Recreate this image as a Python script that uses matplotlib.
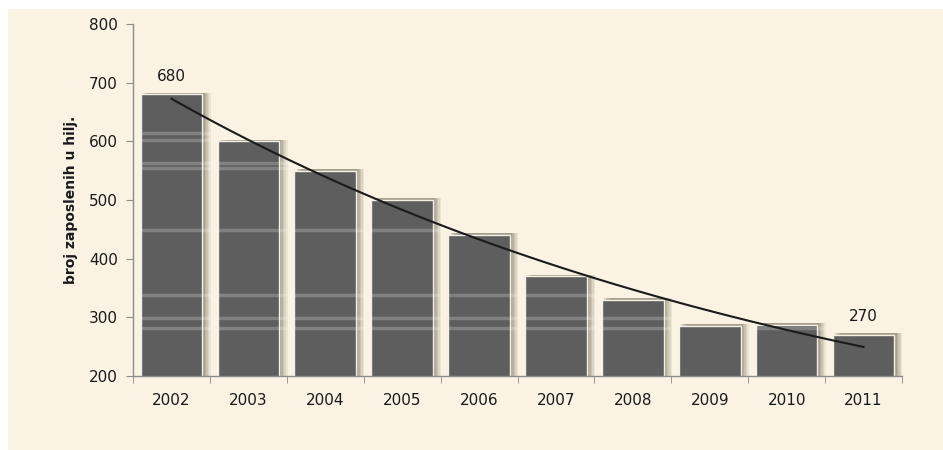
import numpy as np
import matplotlib.pyplot as plt
from matplotlib.patches import Rectangle

years = ["2002", "2003", "2004", "2005", "2006", "2007", "2008", "2009", "2010", "2011"]
employed = [680, 600, 550, 500, 440, 370, 330, 285, 287, 270]
labelled = {0: "680", 9: "270"}
y_ticks = [200, 300, 400, 500, 600, 700, 800]
ylabel = "broj zaposlenih u hilj."
# faint light bands seen across the bars in the original image
streaks = [282, 299, 338, 449, 554, 563, 602, 614]

bg = "#faf3e4"
bar_color = "#5e5e5e"

fig = plt.figure(figsize=(9.43, 4.5), dpi=100)
fig.patch.set_facecolor("white")
fig.patches.append(Rectangle((8 / 943, 0), 1, 1 - 9 / 450, transform=fig.transFigure,
                             facecolor=bg, edgecolor="none", zorder=-10))
ax = fig.add_axes([133 / 943, 74 / 450, 769 / 943, 352 / 450])
ax.set_facecolor(bg)

x = np.arange(len(years))
width = 0.8

# soft shadow to the right of each bar
for k, a in zip([0.11, 0.09, 0.07, 0.05, 0.03], [0.10, 0.12, 0.15, 0.18, 0.22]):
    ax.bar(x + k, np.array(employed) + 3, width=width, bottom=0, color="#6b6350",
           alpha=a, edgecolor="none", zorder=1)
bars = ax.bar(x, employed, width=width, color=bar_color, edgecolor="#f4f0e6",
              linewidth=1.0, zorder=2)

for v in streaks:
    for b in bars:
        if b.get_height() > v + 3:
            ax.hlines(v, b.get_x(), b.get_x() + b.get_width() + 0.1, color="white",
                      alpha=0.22, lw=2.5, zorder=2.5)

# exponential trend line
coef = np.polyfit(x, np.log(employed), 1)
xt = np.linspace(x[0], x[-1], 100)
ax.plot(xt, np.exp(np.polyval(coef, xt)), color="#1a1a1a", lw=1.5, zorder=3)

for i, txt in labelled.items():
    ax.text(x[i], employed[i] + 18, txt, ha="center", va="bottom", fontsize=11,
            color="#1a1a1a")

ax.set_ylim(200, 800)
ax.set_xlim(-0.5, len(years) - 0.5)
ax.set_yticks(y_ticks)
ax.set_yticklabels([str(v) for v in y_ticks], fontsize=11, color="#1a1a1a")
ax.set_xticks(x)
ax.set_xticklabels(years, fontsize=11, color="#1a1a1a")
ax.set_xticks(np.arange(len(years) + 1) - 0.5, minor=True)
ax.tick_params(axis="x", which="major", length=0, pad=12)
ax.tick_params(axis="x", which="minor", length=5, color="#8c8c8c", direction="out")
ax.tick_params(axis="y", length=5, color="#8c8c8c", direction="out", pad=6)
ax.set_ylabel(ylabel, fontsize=10, fontweight="bold", color="#1a1a1a", labelpad=8)

for s in ["top", "right"]:
    ax.spines[s].set_visible(False)
for s in ["left", "bottom"]:
    ax.spines[s].set_color("#8c8c8c")
    ax.spines[s].set_linewidth(1.0)

fig.savefig("out.png", dpi=100, facecolor=fig.get_facecolor())
